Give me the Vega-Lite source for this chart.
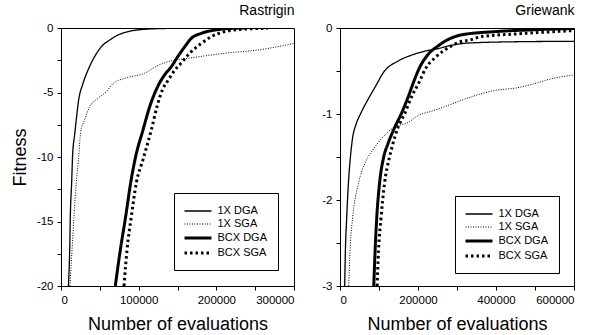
{
  "$schema": "https://vega.github.io/schema/vega-lite/v6.json",
  "padding": {"left": 10, "top": 3, "right": 5, "bottom": 2},
  "bounds": "flush",
  "spacing": 46,
  "config": {
    "font": "Liberation Sans",
    "view": {"stroke": "black", "strokeWidth": 1},
    "axis": {"grid": false, "domainColor": "black", "tickColor": "black", "labelColor": "black", "titleColor": "black", "labelFontSize": 11.5, "titleFontSize": 18, "titleFontWeight": "normal", "tickSize": 4, "labelPadding": 4},
    "legend": {"labelFontSize": 11, "labelColor": "black", "strokeColor": "black", "padding": 10.5, "symbolType": "M-2,0H2", "symbolStrokeColor": "black", "symbolSize": 182, "symbolOffset": 5, "labelOffset": 11, "rowPadding": -1, "titleOrient": "right", "titlePadding": 0, "titleFontSize": 11},
    "title": {"fontSize": 14, "fontWeight": "normal", "anchor": "end", "color": "black", "offset": 4}
  },
  "datasets": {
    "rast": [
      {"series": "1X DGA", "x": 9500, "y": -20}, {"series": "1X DGA", "x": 10300, "y": -19}, {"series": "1X DGA", "x": 11200, "y": -17.2}, {"series": "1X DGA", "x": 12000, "y": -14.6}, {"series": "1X DGA", "x": 13700, "y": -12}, {"series": "1X DGA", "x": 15000, "y": -9.8}, {"series": "1X DGA", "x": 17500, "y": -8.3}, {"series": "1X DGA", "x": 19700, "y": -7.1}, {"series": "1X DGA", "x": 22700, "y": -5.6}, {"series": "1X DGA", "x": 28300, "y": -4.3}, {"series": "1X DGA", "x": 34800, "y": -3.26}, {"series": "1X DGA", "x": 43300, "y": -2.22}, {"series": "1X DGA", "x": 51900, "y": -1.45}, {"series": "1X DGA", "x": 62700, "y": -0.93}, {"series": "1X DGA", "x": 73400, "y": -0.54}, {"series": "1X DGA", "x": 86300, "y": -0.28}, {"series": "1X DGA", "x": 107700, "y": -0.1}, {"series": "1X DGA", "x": 137800, "y": -0.03}, {"series": "1X DGA", "x": 155000, "y": 0},
      {"series": "1X SGA", "x": 11500, "y": -20}, {"series": "1X SGA", "x": 14200, "y": -17.2}, {"series": "1X SGA", "x": 16700, "y": -14.6}, {"series": "1X SGA", "x": 19700, "y": -12}, {"series": "1X SGA", "x": 22500, "y": -10.2}, {"series": "1X SGA", "x": 25300, "y": -8.1}, {"series": "1X SGA", "x": 30500, "y": -7.1}, {"series": "1X SGA", "x": 36900, "y": -6.1}, {"series": "1X SGA", "x": 47600, "y": -5.45}, {"series": "1X SGA", "x": 58300, "y": -4.94}, {"series": "1X SGA", "x": 67000, "y": -4.3}, {"series": "1X SGA", "x": 82000, "y": -3.9}, {"series": "1X SGA", "x": 107700, "y": -3.5}, {"series": "1X SGA", "x": 124900, "y": -2.9}, {"series": "1X SGA", "x": 141700, "y": -2.55}, {"series": "1X SGA", "x": 163500, "y": -2.35}, {"series": "1X SGA", "x": 210800, "y": -1.96}, {"series": "1X SGA", "x": 253700, "y": -1.7}, {"series": "1X SGA", "x": 300000, "y": -1.2},
      {"series": "BCX DGA", "x": 69900, "y": -20}, {"series": "BCX DGA", "x": 76400, "y": -17.2}, {"series": "BCX DGA", "x": 83300, "y": -14.6}, {"series": "BCX DGA", "x": 89700, "y": -12}, {"series": "BCX DGA", "x": 96000, "y": -10}, {"series": "BCX DGA", "x": 105600, "y": -7.9}, {"series": "BCX DGA", "x": 114200, "y": -6.1}, {"series": "BCX DGA", "x": 124000, "y": -4.6}, {"series": "BCX DGA", "x": 132600, "y": -3.7}, {"series": "BCX DGA", "x": 142000, "y": -3.0}, {"series": "BCX DGA", "x": 150600, "y": -2.2}, {"series": "BCX DGA", "x": 159300, "y": -1.45}, {"series": "BCX DGA", "x": 167800, "y": -0.8}, {"series": "BCX DGA", "x": 180700, "y": -0.41}, {"series": "BCX DGA", "x": 197900, "y": -0.16}, {"series": "BCX DGA", "x": 219300, "y": -0.03}, {"series": "BCX DGA", "x": 236500, "y": 0},
      {"series": "BCX SGA", "x": 81100, "y": -20}, {"series": "BCX SGA", "x": 85000, "y": -17.2}, {"series": "BCX SGA", "x": 90600, "y": -14.6}, {"series": "BCX SGA", "x": 97000, "y": -12}, {"series": "BCX SGA", "x": 105600, "y": -10.2}, {"series": "BCX SGA", "x": 116300, "y": -7.9}, {"series": "BCX SGA", "x": 124000, "y": -6.0}, {"series": "BCX SGA", "x": 131300, "y": -4.7}, {"series": "BCX SGA", "x": 138500, "y": -4.0}, {"series": "BCX SGA", "x": 146000, "y": -3.3}, {"series": "BCX SGA", "x": 155000, "y": -2.7}, {"series": "BCX SGA", "x": 165700, "y": -1.96}, {"series": "BCX SGA", "x": 180700, "y": -1.19}, {"series": "BCX SGA", "x": 193500, "y": -0.67}, {"series": "BCX SGA", "x": 210800, "y": -0.28}, {"series": "BCX SGA", "x": 236500, "y": -0.08}, {"series": "BCX SGA", "x": 266500, "y": -0.02}
    ],
    "grie": [
      {"series": "1X DGA", "x": 12000, "y": -3}, {"series": "1X DGA", "x": 13800, "y": -2.59}, {"series": "1X DGA", "x": 17200, "y": -2.2}, {"series": "1X DGA", "x": 21500, "y": -1.81}, {"series": "1X DGA", "x": 26700, "y": -1.5}, {"series": "1X DGA", "x": 32600, "y": -1.27}, {"series": "1X DGA", "x": 41100, "y": -1.12}, {"series": "1X DGA", "x": 52400, "y": -1.0}, {"series": "1X DGA", "x": 69400, "y": -0.85}, {"series": "1X DGA", "x": 88400, "y": -0.7}, {"series": "1X DGA", "x": 114100, "y": -0.5}, {"series": "1X DGA", "x": 148300, "y": -0.386}, {"series": "1X DGA", "x": 186800, "y": -0.31}, {"series": "1X DGA", "x": 216900, "y": -0.27}, {"series": "1X DGA", "x": 251000, "y": -0.24}, {"series": "1X DGA", "x": 276800, "y": -0.21}, {"series": "1X DGA", "x": 328200, "y": -0.175}, {"series": "1X DGA", "x": 450000, "y": -0.16}, {"series": "1X DGA", "x": 600000, "y": -0.155},
      {"series": "1X SGA", "x": 22400, "y": -3}, {"series": "1X SGA", "x": 25700, "y": -2.59}, {"series": "1X SGA", "x": 32600, "y": -2.2}, {"series": "1X SGA", "x": 47200, "y": -1.81}, {"series": "1X SGA", "x": 66800, "y": -1.545}, {"series": "1X SGA", "x": 84000, "y": -1.42}, {"series": "1X SGA", "x": 109700, "y": -1.27}, {"series": "1X SGA", "x": 140000, "y": -1.15}, {"series": "1X SGA", "x": 174000, "y": -1.1}, {"series": "1X SGA", "x": 199700, "y": -1.02}, {"series": "1X SGA", "x": 240000, "y": -0.96}, {"series": "1X SGA", "x": 276800, "y": -0.9}, {"series": "1X SGA", "x": 336800, "y": -0.8}, {"series": "1X SGA", "x": 405000, "y": -0.72}, {"series": "1X SGA", "x": 448000, "y": -0.7}, {"series": "1X SGA", "x": 491000, "y": -0.656}, {"series": "1X SGA", "x": 542000, "y": -0.59}, {"series": "1X SGA", "x": 600000, "y": -0.545},
      {"series": "BCX DGA", "x": 86600, "y": -3}, {"series": "BCX DGA", "x": 90000, "y": -2.59}, {"series": "BCX DGA", "x": 94300, "y": -2.2}, {"series": "BCX DGA", "x": 101300, "y": -1.81}, {"series": "BCX DGA", "x": 112000, "y": -1.5}, {"series": "BCX DGA", "x": 122600, "y": -1.35}, {"series": "BCX DGA", "x": 139800, "y": -1.16}, {"series": "BCX DGA", "x": 156800, "y": -1.0}, {"series": "BCX DGA", "x": 174000, "y": -0.81}, {"series": "BCX DGA", "x": 189400, "y": -0.62}, {"series": "BCX DGA", "x": 204000, "y": -0.46}, {"series": "BCX DGA", "x": 225400, "y": -0.31}, {"series": "BCX DGA", "x": 251000, "y": -0.21}, {"series": "BCX DGA", "x": 276800, "y": -0.135}, {"series": "BCX DGA", "x": 311000, "y": -0.08}, {"series": "BCX DGA", "x": 405300, "y": -0.04}, {"series": "BCX DGA", "x": 500000, "y": -0.02}, {"series": "BCX DGA", "x": 600000, "y": -0.005},
      {"series": "BCX SGA", "x": 95100, "y": -3}, {"series": "BCX SGA", "x": 98700, "y": -2.59}, {"series": "BCX SGA", "x": 105400, "y": -2.2}, {"series": "BCX SGA", "x": 114100, "y": -1.81}, {"series": "BCX SGA", "x": 127000, "y": -1.5}, {"series": "BCX SGA", "x": 135400, "y": -1.35}, {"series": "BCX SGA", "x": 148300, "y": -1.16}, {"series": "BCX SGA", "x": 165500, "y": -1.0}, {"series": "BCX SGA", "x": 182500, "y": -0.81}, {"series": "BCX SGA", "x": 204000, "y": -0.62}, {"series": "BCX SGA", "x": 221000, "y": -0.46}, {"series": "BCX SGA", "x": 242600, "y": -0.35}, {"series": "BCX SGA", "x": 263900, "y": -0.27}, {"series": "BCX SGA", "x": 285300, "y": -0.21}, {"series": "BCX SGA", "x": 302500, "y": -0.17}, {"series": "BCX SGA", "x": 336800, "y": -0.135}, {"series": "BCX SGA", "x": 362300, "y": -0.1}, {"series": "BCX SGA", "x": 448200, "y": -0.07}, {"series": "BCX SGA", "x": 600000, "y": -0.03}
    ]
  },
  "resolve": {"scale": {"x": "independent", "y": "independent", "strokeDash": "independent", "strokeWidth": "independent"}, "legend": {"strokeDash": "independent", "strokeWidth": "independent"}},
  "hconcat": [
    {
      "width": 233, "height": 258,
      "title": {"text": "Rastrigin"},
      "data": {"name": "rast"},
      "mark": {"type": "line", "clip": true, "interpolate": "monotone", "color": "black"},
      "encoding": {
        "x": {"field": "x", "type": "quantitative", "scale": {"domain": [0, 300000], "nice": false},
          "axis": {"title": "Number of evaluations", "values": [0, 50000, 100000, 150000, 200000, 250000, 300000], "labelExpr": "datum.value % 100000 == 0 ? '' + datum.value : ''", "titlePadding": 10}},
        "y": {"field": "y", "type": "quantitative", "scale": {"domain": [-20, 0], "nice": false},
          "axis": {"title": "Fitness", "values": [0, -2.5, -5, -7.5, -10, -12.5, -15, -17.5, -20], "labelExpr": "datum.value % 5 == 0 ? '' + datum.value : ''", "titlePadding": 7}},
        "strokeDash": {"field": "series", "type": "nominal", "scale": {"domain": ["1X DGA", "1X SGA", "BCX DGA", "BCX SGA"], "range": [[1, 0], [1, 1.5], [1, 0], [2.5, 3]]},
          "legend": {"title": "\u00a0\u00a0\u00a0", "orient": "none", "legendX": 113, "legendY": 165}},
        "strokeWidth": {"field": "series", "type": "nominal", "scale": {"type": "ordinal", "domain": ["1X DGA", "1X SGA", "BCX DGA", "BCX SGA"], "range": [1.3, 1, 3, 3]},
          "legend": {"title": "\u00a0\u00a0\u00a0", "orient": "none", "legendX": 113, "legendY": 165}}
      }
    },
    {
      "width": 234, "height": 258,
      "title": {"text": "Griewank"},
      "data": {"name": "grie"},
      "mark": {"type": "line", "clip": true, "interpolate": "monotone", "color": "black"},
      "encoding": {
        "x": {"field": "x", "type": "quantitative", "scale": {"domain": [0, 600000], "nice": false},
          "axis": {"title": "Number of evaluations", "values": [0, 100000, 200000, 300000, 400000, 500000, 600000], "labelExpr": "datum.value % 200000 == 0 ? '' + datum.value : ''", "titlePadding": 10}},
        "y": {"field": "y", "type": "quantitative", "scale": {"domain": [-3, 0], "nice": false},
          "axis": {"title": null, "values": [0, -0.5, -1, -1.5, -2, -2.5, -3], "labelExpr": "datum.value % 1 == 0 ? '' + datum.value : ''"}},
        "strokeDash": {"field": "series", "type": "nominal", "scale": {"domain": ["1X DGA", "1X SGA", "BCX DGA", "BCX SGA"], "range": [[1, 0], [1, 1.5], [1, 0], [2.5, 3]]},
          "legend": {"title": "\u00a0\u00a0\u00a0", "orient": "none", "legendX": 115, "legendY": 168}},
        "strokeWidth": {"field": "series", "type": "nominal", "scale": {"type": "ordinal", "domain": ["1X DGA", "1X SGA", "BCX DGA", "BCX SGA"], "range": [1.3, 1, 3, 3]},
          "legend": {"title": "\u00a0\u00a0\u00a0", "orient": "none", "legendX": 115, "legendY": 168}}
      }
    }
  ]
}
